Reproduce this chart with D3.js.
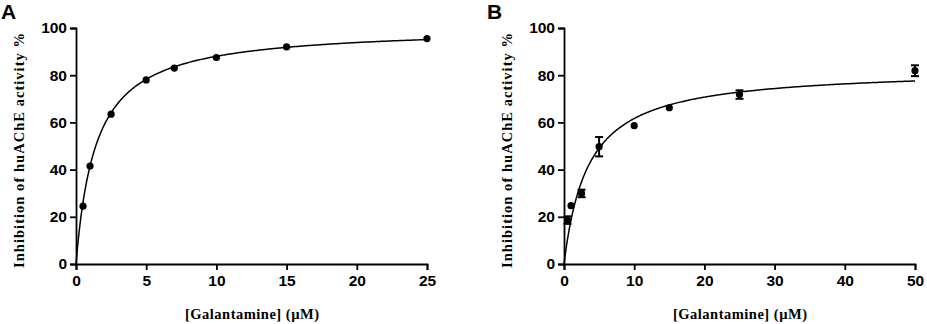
<!DOCTYPE html>
<html><head><meta charset="utf-8">
<script src="https://cdn.jsdelivr.net/npm/d3@7"></script>
<style>body{margin:0;background:#fff}svg{display:block}</style>
</head><body>
<svg id="c" width="927" height="324"></svg>
<script>
// Panel A data
const aX = [0.5, 1, 2.5, 5, 7, 10, 15, 25];
const aY = [24.5, 41.5, 63.5, 78, 83, 87.5, 92, 95.5];
const aFit = [100.5, 1.42]; // Imax, IC50
const aXTicks = [0, 5, 10, 15, 20, 25];
// Panel B data
const bX = [0.5, 1, 2.5, 5, 10, 15, 25, 50];
const bY = [18.6, 24.7, 29.9, 49.7, 58.6, 66.2, 71.8, 81.9];
const bErr = [1.6, 0, 1.6, 4.1, 0, 0, 1.8, 2.3];
const bFit = [82.9, 3.45];
const bXTicks = [0, 10, 20, 30, 40, 50];
const yTicks = [0, 20, 40, 60, 80, 100];
const yTitle = "Inhibition of huAChE activity %";
const xTitle = "[Galantamine] (\u00b5M)";

const svg = d3.select("#c");

function panel(opt) {
  const x = d3.scaleLinear().domain([0, opt.xmax]).range([opt.x0, opt.x1]);
  const y = d3.scaleLinear().domain([0, 100]).range([264, 28]);
  const g = svg.append("g");
  // label
  g.append("text").attr("x", opt.lx).attr("y", 19).text(opt.label)
    .attr("font-family", "Liberation Sans, Arial, sans-serif").attr("font-weight", "bold").attr("font-size", 21);
  // axes
  const ya = g.append("g").attr("transform", `translate(${opt.x0},0)`)
    .call(d3.axisLeft(y).tickValues(yTicks).tickSize(6).tickPadding(3));
  const xa = g.append("g").attr("transform", `translate(0,264)`)
    .call(d3.axisBottom(x).tickValues(opt.ticks).tickSize(6).tickPadding(5));
  [ya, xa].forEach(a => {
    a.select(".domain").attr("stroke-width", 1.8).attr("stroke", "#000");
    a.selectAll(".tick line").attr("stroke-width", 1.8).attr("stroke", "#000");
    a.selectAll("text").attr("font-family", "Liberation Sans, Arial, sans-serif")
      .attr("font-weight", "bold").attr("font-size", 15.5).attr("fill", "#000");
  });
  // fit curve
  const n = 400;
  const pts = d3.range(n + 1).map(i => {
    const xv = opt.xmax * Math.pow(i / n, 2);
    return [xv, opt.fit[0] * xv / (opt.fit[1] + xv)];
  });
  g.append("path").datum(pts).attr("fill", "none").attr("stroke", "#000").attr("stroke-width", 1.5)
    .attr("d", d3.line().x(d => x(d[0])).y(d => y(d[1])));
  // error bars
  if (opt.err) {
    opt.xs.forEach((xv, i) => {
      const e = opt.err[i];
      if (!e) return;
      const cx = x(xv);
      g.append("line").attr("x1", cx).attr("x2", cx).attr("y1", y(opt.ys[i] - e)).attr("y2", y(opt.ys[i] + e))
        .attr("stroke", "#000").attr("stroke-width", 2);
      [opt.ys[i] - e, opt.ys[i] + e].forEach(v => {
        g.append("line").attr("x1", cx - 4).attr("x2", cx + 4).attr("y1", y(v)).attr("y2", y(v))
          .attr("stroke", "#000").attr("stroke-width", 2);
      });
    });
  }
  g.selectAll("circle.pt").data(opt.xs).enter().append("circle")
    .attr("cx", d => x(d)).attr("cy", (d, i) => y(opt.ys[i])).attr("r", 3.6).attr("fill", "#000");
  // titles
  g.append("text").attr("x", opt.xtx).attr("y", 319).attr("text-anchor", "middle")
    .attr("font-family", "Liberation Serif, Times New Roman, serif").attr("font-weight", "bold")
    .attr("font-size", 14.5).attr("textLength", 134).attr("lengthAdjust", "spacing").text(xTitle);
  g.append("text").attr("transform", `translate(${opt.tx},150.5) rotate(-90)`).attr("text-anchor", "middle")
    .attr("font-family", "Liberation Serif, Times New Roman, serif").attr("font-weight", "bold")
    .attr("font-size", 14.5).attr("textLength", 235).attr("lengthAdjust", "spacing").text(yTitle);
}

panel({label: "A", lx: 1, x0: 76, x1: 427, xmax: 25, ticks: aXTicks, xs: aX, ys: aY, fit: aFit, tx: 24, xtx: 252});
panel({label: "B", lx: 487, x0: 564, x1: 915, xmax: 50, ticks: bXTicks, xs: bX, ys: bY, err: bErr, fit: bFit, tx: 512, xtx: 740});
</script>
</body></html>
